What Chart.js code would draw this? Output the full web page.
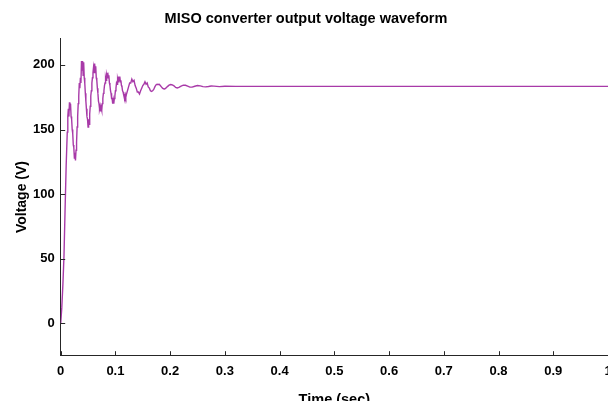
<!DOCTYPE html>
<html>
<head>
<meta charset="utf-8">
<script src="https://cdn.jsdelivr.net/npm/chart.js@4.4.1/dist/chart.umd.min.js"></script>
<style>
  html, body { margin: 0; padding: 0; background: #fff; overflow: hidden; }
  #wrap { width: 608px; height: 401px; overflow: hidden; position: relative; }
  #c { position: absolute; left: 0; top: 0; }
</style>
</head>
<body>
<div id="wrap"><canvas id="c" width="647" height="430"></canvas></div>
<script>
// ---- data ----
const timeSec = [
  0, 0.002, 0.004, 0.006, 0.008, 0.010, 0.012, 0.013, 0.014, 0.015, 0.016, 0.017, 0.018, 0.019, 0.020,
  0.021, 0.022, 0.023, 0.024, 0.025, 0.026, 0.027, 0.028, 0.029, 0.030,
  0.031, 0.032, 0.033, 0.034, 0.035, 0.036, 0.037, 0.038, 0.039, 0.040, 0.041, 0.042, 0.043, 0.044,
  0.045, 0.046, 0.047, 0.048, 0.049, 0.050, 0.051, 0.052,
  0.053, 0.054, 0.055, 0.056, 0.057, 0.058, 0.059, 0.060, 0.061, 0.062, 0.063, 0.064, 0.065, 0.066,
  0.067, 0.068, 0.069, 0.070, 0.071, 0.072, 0.073, 0.074, 0.075,
  0.076, 0.077, 0.078, 0.079, 0.080, 0.081, 0.082, 0.083, 0.084, 0.085, 0.086, 0.087, 0.088, 0.089,
  0.090, 0.091, 0.092, 0.093, 0.094, 0.095, 0.096, 0.097, 0.098,
  0.099, 0.100, 0.101, 0.102, 0.103, 0.104, 0.105, 0.106, 0.107, 0.108, 0.109, 0.110, 0.111, 0.112,
  0.113, 0.114, 0.115, 0.116, 0.117, 0.118, 0.119, 0.120,
  0.122, 0.124, 0.126, 0.128, 0.130, 0.132, 0.134, 0.136, 0.138, 0.140, 0.142, 0.144, 0.146,
  0.148, 0.150, 0.152, 0.154, 0.156, 0.158, 0.160, 0.162, 0.164, 0.166, 0.168,
  0.170, 0.172, 0.174, 0.176, 0.178, 0.180, 0.182, 0.184, 0.186, 0.188, 0.190, 0.192,
  0.195, 0.198, 0.201, 0.204, 0.207, 0.210, 0.213, 0.216, 0.220, 0.224, 0.228, 0.232, 0.236, 0.240,
  0.245, 0.250, 0.255, 0.260, 0.265, 0.270, 0.275, 0.280, 0.290, 0.300, 0.320, 0.350, 0.400,
  0.500, 0.600, 0.700, 0.800, 0.900, 1.000
];
const voltage = [
  0, 12, 30, 52, 88, 122, 148, 160, 166, 160, 171, 165, 170, 160, 158,
  150, 147, 138, 136, 128, 132, 126, 134, 140, 152,
  160, 170, 176, 186, 182, 190, 186, 203, 196, 203, 192, 202, 190, 186,
  178, 172, 166, 160, 158, 152, 158, 154,
  162, 168, 176, 180, 186, 190, 194, 198, 194, 201, 196, 199, 190, 188,
  182, 178, 172, 170, 166, 168, 164, 167, 165,
  170, 174, 178, 180, 184, 186, 190, 188, 192, 190, 194, 190, 192, 186,
  184, 180, 178, 174, 174, 170, 173, 170, 174,
  176, 180, 182, 186, 185, 189, 187, 191, 188, 191, 187, 188, 184, 183,
  180, 179, 177, 177, 175, 177, 175, 177,
  180, 183, 186, 186, 189, 187, 188, 184, 182, 179, 179, 177.5, 180,
  182, 184, 185, 187, 185, 186, 183, 182, 180, 179.5, 180,
  181, 183, 184.5, 185, 184.8, 185, 184, 183, 182, 181.5, 181.3, 182,
  183.2, 184.3, 184.8, 184.6, 183.8, 182.6, 182.2, 182.6, 183.6, 184.3, 184.2, 183.5, 182.8, 182.8,
  183.5, 184.0, 183.8, 183.2, 183.0, 183.3, 183.7, 183.6, 183.2, 183.5, 183.4, 183.4, 183.4,
  183.4, 183.4, 183.4, 183.4, 183.4, 183.4
];
const xTickValues = [0, 0.1, 0.2, 0.3, 0.4, 0.5, 0.6, 0.7, 0.8, 0.9, 1];
const xTickLabels = ['0', '0.1', '0.2', '0.3', '0.4', '0.5', '0.6', '0.7', '0.8', '0.9', '1'];
const yTickValues = [0, 50, 100, 150, 200];
const yTickLabels = ['0', '50', '100', '150', '200'];

const axisColor = '#262626';
const lineColor = 'rgb(168, 58, 168)';
const FONT = '"Liberation Sans", Arial, sans-serif';

const points = timeSec.map((t, i) => ({ x: t, y: voltage[i] }));

const inwardTicks = {
  id: 'inwardTicks',
  afterDraw(chart) {
    const ctx = chart.ctx;
    const xs = chart.scales.x, ys = chart.scales.y;
    const len = 4.5;
    ctx.save();
    ctx.strokeStyle = axisColor;
    ctx.lineWidth = 1;
    ctx.beginPath();
    xs.ticks.forEach(tk => {
      const px = Math.round(xs.getPixelForValue(tk.value)) + 0.5;
      ctx.moveTo(px, xs.top);
      ctx.lineTo(px, xs.top - len);
    });
    ys.ticks.forEach(tk => {
      const py = Math.round(ys.getPixelForValue(tk.value)) + 0.5;
      ctx.moveTo(ys.right, py);
      ctx.lineTo(ys.right + len, py);
    });
    ctx.stroke();
    ctx.restore();
  }
};

new Chart(document.getElementById('c'), {
  type: 'line',
  data: {
    datasets: [{
      data: points,
      borderColor: lineColor,
      borderWidth: 1.4,
      pointRadius: 0,
      tension: 0,
      fill: false
    }]
  },
  options: {
    responsive: false,
    animation: false,
    devicePixelRatio: 1,
    layout: { padding: { left: 4, right: 39, top: 0, bottom: 20 } },
    plugins: {
      legend: { display: false },
      tooltip: { enabled: false },
      title: {
        display: true,
        text: 'MISO converter output voltage waveform',
        color: '#000',
        font: { family: FONT, size: 14.5, weight: 'bold' },
        padding: { top: 10.5, bottom: 10.5 }
      }
    },
    scales: {
      x: {
        type: 'linear',
        min: 0, max: 1,
        afterBuildTicks(scale) { scale.ticks = xTickValues.map(v => ({ value: v })); },
        ticks: {
          color: '#000',
          font: { family: FONT, size: 13, weight: 'bold' },
          padding: 8,
          maxRotation: 0,
          autoSkip: false,
          callback(value) { const i = xTickValues.indexOf(value); return i >= 0 ? xTickLabels[i] : ''; }
        },
        grid: { display: false, drawTicks: false },
        border: { display: true, color: axisColor, width: 1 },
        title: {
          display: true,
          text: 'Time (sec)',
          color: '#000',
          font: { family: FONT, size: 14.5, weight: 'bold' },
          padding: { top: 3.8, bottom: 1.5 }
        }
      },
      y: {
        type: 'linear',
        min: -25, max: 220.5,
        afterBuildTicks(scale) { scale.ticks = yTickValues.map(v => ({ value: v })); },
        ticks: {
          color: '#000',
          font: { family: FONT, size: 13, weight: 'bold' },
          padding: 6,
          autoSkip: false,
          callback(value) { const i = yTickValues.indexOf(value); return i >= 0 ? yTickLabels[i] : ''; }
        },
        grid: { display: false, drawTicks: false },
        border: { display: true, color: axisColor, width: 1 },
        title: {
          display: true,
          text: 'Voltage (V)',
          color: '#000',
          font: { family: FONT, size: 14, weight: 'bold' },
          padding: { top: 10, bottom: -3.8 }
        }
      }
    }
  },
  plugins: [inwardTicks]
});
</script>
</body>
</html>
